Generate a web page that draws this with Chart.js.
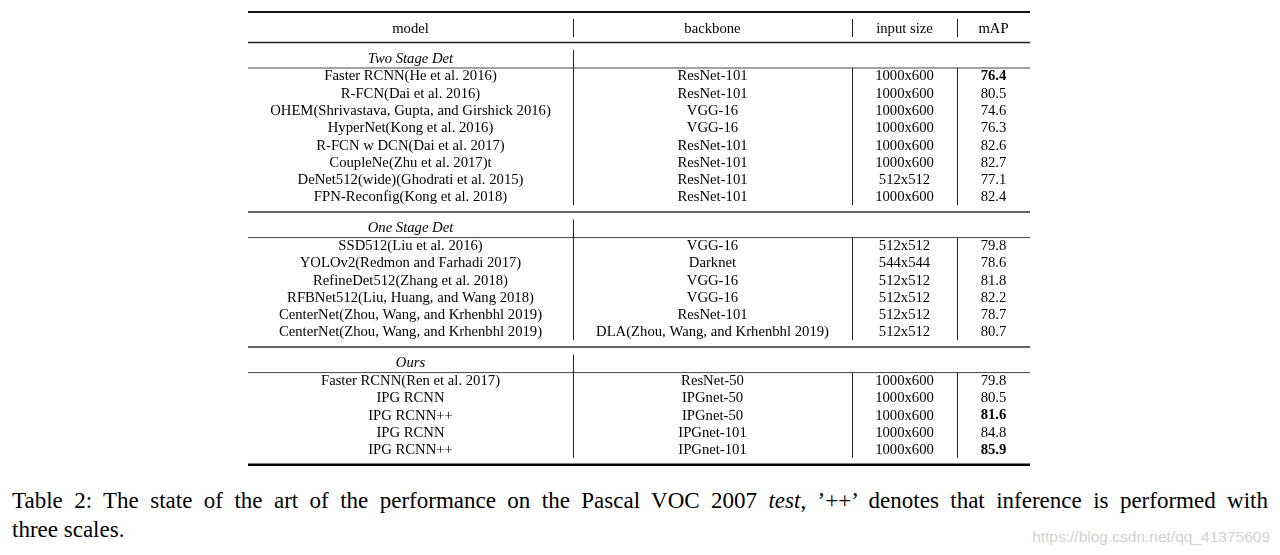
<!DOCTYPE html>
<html>
<head>
<meta charset="utf-8">
<script src="https://cdn.jsdelivr.net/npm/chart.js@4.4.0/dist/chart.umd.min.js"></script>
<style>
    html, body { margin: 0; padding: 0; background: #fff; }
    body { width: 1280px; height: 555px; position: relative; overflow: hidden; }
    #tableChart { position: absolute; left: 0; top: 0; }
    #caption {
        position: absolute; left: 12px; top: 486px; width: 1256px;
        font: 23px/29px "Liberation Serif", "Times New Roman", serif;
        color: #000;
    }
    #caption .l1 { text-align: justify; text-align-last: justify; }
    #watermark {
        position: absolute; right: 10px; top: 528px;
        font: 15.5px "Liberation Sans", Arial, sans-serif; color: #d2d2d2;
    }
</style>
</head>
<body>
<canvas id="tableChart" width="1280" height="480"></canvas>
<div id="caption"><div class="l1">Table 2: The state of the art of the performance on the Pascal VOC 2007 <i>test</i>, ’++’ denotes that inference is performed with</div><div>three scales.</div></div>
<div id="watermark">https://blog.csdn.net/qq_41375609</div>
<script>
// Tabela 2 - Pascal VOC 2007 test

const columns = ['model', 'backbone', 'input size', 'mAP'];
const groups = ['Two Stage Det', 'One Stage Det', 'Ours'];
const groupSizes = [8, 6, 5];

const models = [
    'Faster RCNN(He et al. 2016)',
    'R-FCN(Dai et al. 2016)',
    'OHEM(Shrivastava, Gupta, and Girshick 2016)',
    'HyperNet(Kong et al. 2016)',
    'R-FCN w DCN(Dai et al. 2017)',
    'CoupleNe(Zhu et al. 2017)t',
    'DeNet512(wide)(Ghodrati et al. 2015)',
    'FPN-Reconfig(Kong et al. 2018)',
    'SSD512(Liu et al. 2016)',
    'YOLOv2(Redmon and Farhadi 2017)',
    'RefineDet512(Zhang et al. 2018)',
    'RFBNet512(Liu, Huang, and Wang 2018)',
    'CenterNet(Zhou, Wang, and Krhenbhl 2019)',
    'CenterNet(Zhou, Wang, and Krhenbhl 2019)',
    'Faster RCNN(Ren et al. 2017)',
    'IPG RCNN',
    'IPG RCNN++',
    'IPG RCNN',
    'IPG RCNN++'
];

const backbones = [
    'ResNet-101', 'ResNet-101', 'VGG-16', 'VGG-16', 'ResNet-101', 'ResNet-101', 'ResNet-101', 'ResNet-101',
    'VGG-16', 'Darknet', 'VGG-16', 'VGG-16', 'ResNet-101', 'DLA(Zhou, Wang, and Krhenbhl 2019)',
    'ResNet-50', 'IPGnet-50', 'IPGnet-50', 'IPGnet-101', 'IPGnet-101'
];

const inputSizes = [
    '1000x600', '1000x600', '1000x600', '1000x600', '1000x600', '1000x600', '512x512', '1000x600',
    '512x512', '544x544', '512x512', '512x512', '512x512', '512x512',
    '1000x600', '1000x600', '1000x600', '1000x600', '1000x600'
];

const mapValues = [
    76.4, 80.5, 74.6, 76.3, 82.6, 82.7, 77.1, 82.4,
    79.8, 78.6, 81.8, 82.2, 78.7, 80.7,
    79.8, 80.5, 81.6, 84.8, 85.9
];

const boldRows = [0, 16, 18];

// layout da tabela (unidades = px dentro da tabela)
const colEdges = [0, 325, 604, 709, 782];
const ROW_STEP = 17.3;
const HEADER_Y = 16;
const HEADER_RULE = 30.5;
const GROUP_OFFSET = 15.5;
const GROUP_RULE = 10;
const FIRST_ROW = 17.5;
const SECTION_END = 15.5;
const FONT = '"Liberation Serif", "Times New Roman", serif';
const FONT_SIZE = 14.7;

function montarLayout() {
    const rowY = [];
    const sections = [];
    let start = HEADER_RULE;
    groupSizes.forEach(n => {
        const gy = start + GROUP_OFFSET;
        let y = gy + FIRST_ROW;
        for (let i = 0; i < n; i++) {
            rowY.push(y);
            y += ROW_STEP;
        }
        const end = rowY[rowY.length - 1] + SECTION_END;
        sections.push({ group: gy, rule: gy + GROUP_RULE, end: end });
        start = end;
    });
    return { rowY, sections, total: start };
}

const layout = montarLayout();
const centers = columns.map((c, i) => (colEdges[i] + colEdges[i + 1]) / 2);

function colunaDataset(col, texts) {
    return {
        data: layout.rowY.map(y => ({ x: centers[col], y: y })),
        texts: texts,
        pointRadius: 0
    };
}

const datasets = [
    { data: centers.map(x => ({ x: x, y: HEADER_Y })), texts: columns, pointRadius: 0 },
    { data: layout.sections.map(s => ({ x: centers[0], y: s.group })), texts: groups, italic: true, pointRadius: 0 },
    colunaDataset(0, models),
    colunaDataset(1, backbones),
    colunaDataset(2, inputSizes),
    Object.assign(colunaDataset(3, mapValues.map(v => v.toFixed(1))), { bold: boldRows })
];

const tablePlugin = {
    id: 'tableRules',
    afterDatasetsDraw(chart) {
        const ctx = chart.ctx;
        const xs = chart.scales.x;
        const ys = chart.scales.y;
        const left = xs.getPixelForValue(colEdges[0]);
        const right = xs.getPixelForValue(colEdges[colEdges.length - 1]);

        function hline(v, w, color) {
            const y = ys.getPixelForValue(v);
            ctx.beginPath();
            ctx.lineWidth = w;
            ctx.strokeStyle = color;
            ctx.moveTo(left, y);
            ctx.lineTo(right, y);
            ctx.stroke();
        }
        function vline(edge, v0, v1) {
            const x = Math.round(xs.getPixelForValue(colEdges[edge])) + 0.5;
            ctx.beginPath();
            ctx.lineWidth = 1;
            ctx.strokeStyle = '#222';
            ctx.moveTo(x, ys.getPixelForValue(v0));
            ctx.lineTo(x, ys.getPixelForValue(v1));
            ctx.stroke();
        }

        ctx.save();
        hline(0, 2, '#111');
        hline(HEADER_RULE, 1.5, '#222');
        for (let e = 1; e < colEdges.length - 1; e++) {
            vline(e, HEADER_Y - 9, HEADER_Y + 9);
        }
        layout.sections.forEach((s, i) => {
            hline(s.rule, 1, '#444');
            if (i === layout.sections.length - 1) {
                hline(s.end, 2.5, '#000');
            } else {
                hline(s.end, 2, '#666');
            }
            vline(1, s.group - 8, s.end - 7);
            for (let e = 2; e < colEdges.length - 1; e++) {
                vline(e, s.rule, s.end - 7);
            }
        });

        // textos das células
        ctx.fillStyle = '#000';
        ctx.textAlign = 'center';
        ctx.textBaseline = 'middle';
        chart.data.datasets.forEach((ds, di) => {
            const meta = chart.getDatasetMeta(di);
            meta.data.forEach((pt, i) => {
                let style = '';
                if (ds.italic) style = 'italic ';
                if (ds.bold && ds.bold.includes(i)) style = 'bold ';
                ctx.font = style + FONT_SIZE + 'px ' + FONT;
                ctx.fillText(ds.texts[i], pt.x, pt.y + 1);
            });
        });
        ctx.restore();
    }
};

new Chart(document.getElementById('tableChart').getContext('2d'), {
    type: 'scatter',
    data: { datasets: datasets },
    options: {
        responsive: false,
        animation: false,
        events: [],
        layout: { padding: { left: 248, right: 250, top: 12, bottom: 480 - 12 - layout.total } },
        plugins: { legend: { display: false }, tooltip: { enabled: false } },
        scales: {
            x: { type: 'linear', display: false, min: 0, max: colEdges[colEdges.length - 1] },
            y: { type: 'linear', display: false, reverse: true, min: 0, max: layout.total }
        }
    },
    plugins: [tablePlugin]
});
</script>
</body>
</html>
